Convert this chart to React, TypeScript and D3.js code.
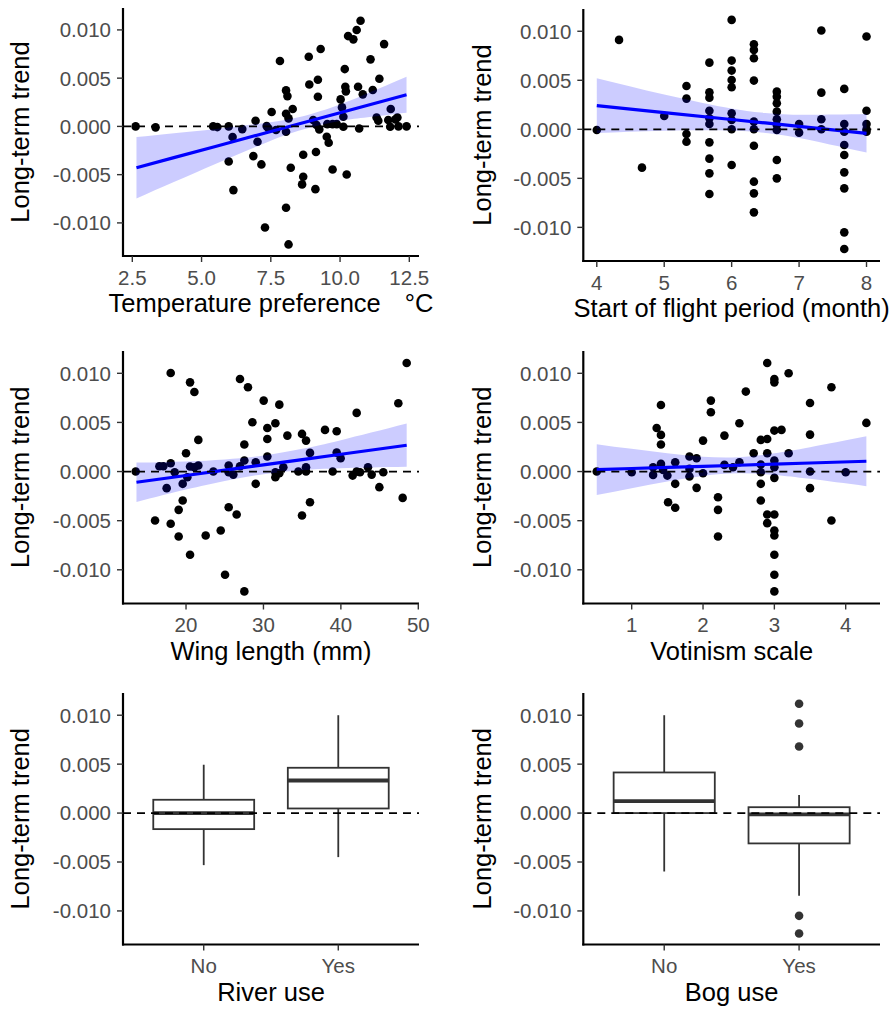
import React from "react";
import * as d3 from "d3";

// ---------- shared ----------
const Y_DOMAIN: [number, number] = [-0.01343, 0.01227];
const Y_TICKS = [-0.01, -0.005, 0, 0.005, 0.01];
const Y_TITLE = "Long-term trend";

// ---------- panel 1: temperature preference ----------
const tempX = [2.62, 3.34, 5.42, 5.57, 5.98, 6.12, 5.98, 6.15, 6.47, 6.95, 7.02, 6.87, 7.16, 7.29, 7.35, 7.42, 7.53, 7.69, 7.83, 8.05, 8.1, 8.05, 8.14, 8.29, 8.05, 8.22, 8.05, 8.14, 8.67, 8.67, 8.63, 8.87, 8.89, 9.2, 9.3, 9.2, 9.03, 9.15, 9.25, 9.13, 9.11, 9.52, 9.59, 9.54, 9.73, 9.73, 9.88, 10.02, 10.07, 10.17, 10.19, 10.21, 10.12, 10.12, 10.24, 10.29, 10.48, 10.6, 10.74, 10.65, 10.82, 10.69, 11.1, 11.18, 11.42, 11.32, 11.38, 11.59, 11.83, 11.81, 12.0, 12.11, 12.4, 12.07, 11.74];
const tempY = [0, -0.0001, 0, -0.00007, 0, -0.0011, -0.00363, -0.0066, -0.00028, 0.00059, -0.00159, -0.00308, -0.00394, -0.01047, 0.00003, -0.00021, 0.00149, -0.00038, 0.00677, 0.00373, 0.00314, 0.00131, 0.00083, 0.0018, -0.00055, -0.00428, -0.00843, -0.01223, -0.00294, -0.00522, -0.00601, 0.00722, 0.00435, 0.00484, 0.00802, 0.00308, 0.00066, 0.00014, -0.00031, -0.00266, -0.0065, -0.00107, -0.00169, 0.00024, 0.00024, -0.00446, 0.00024, 0.0028, 0.00197, 0.00594, 0.00411, 0.00363, 0.001, -0.00003, -0.00498, 0.00936, 0.00902, 0.00999, 0.01095, 0.00411, 0.00332, -0.00021, 0.00695, 0.00377, 0.00494, 0.00093, 0.00059, 0.00853, 0.0018, -0.00003, 0.00073, 0, 0, 0.00093, 0.00066];
const tempTicks = [2.5, 5, 7.5, 10, 12.5];
const tempFitX = [2.65, 4, 5.5, 7, 8.5, 10, 11, 12.4];
const tempFitY = [-0.00429, -0.00324, -0.00208, -0.00091, 0.00025, 0.00142, 0.00219, 0.00328];
const tempFitLo = [-0.00747, -0.00577, -0.0039, -0.00207, -0.00045, 0.00056, 0.00095, 0.00141];
const tempFitHi = [-0.00111, -0.00071, -0.00026, 0.00025, 0.00095, 0.00228, 0.00343, 0.00515];

// ---------- panel 2: start of flight period ----------
const flightX = [4, 4.33, 4.67, 5, 5.33, 5.33, 5.33, 5.33, 5.67, 5.67, 5.67, 5.67, 5.67, 5.67, 5.67, 5.67, 5.67, 5.67, 6, 6, 6, 6, 6, 6, 6, 6, 6, 6.33, 6.33, 6.33, 6.33, 6.33, 6.33, 6.33, 6.33, 6.33, 6.33, 6.67, 6.67, 6.67, 6.67, 6.67, 6.67, 6.67, 6.67, 6.67, 7, 7, 7.33, 7.33, 7.33, 7.33, 7.67, 7.67, 7.67, 7.67, 7.67, 7.67, 7.67, 7.67, 7.67, 8, 8, 8, 8, 8];
const flightY = [-0.00007, 0.00912, -0.00391, 0.00136, 0.00442, 0.00313, -0.00048, -0.00126, 0.0068, 0.00378, 0.00323, 0.0019, 0.00112, 0.00054, -0.00133, -0.00299, -0.00449, -0.0066, 0.01116, 0.00701, 0.00599, 0.00503, 0.00429, 0.00163, 0.00095, 0, -0.00364, 0.00867, 0.0081, 0.00724, 0.00497, 0.00078, 0, -0.00167, -0.00534, -0.00653, -0.00847, 0.00384, 0.00333, 0.00265, 0.0018, 0.00102, 0.00044, -0.00007, -0.00313, -0.005, 0.00054, -0.00034, 0.01007, 0.00374, 0.00102, 0, 0.00412, 0.00054, -0.00024, -0.0016, -0.00262, -0.00439, -0.00602, -0.01051, -0.01221, 0.00946, 0.0019, 0.00054, 0, -0.00024];
const flightTicks = [4, 5, 6, 7, 8];
const flightFitX = [4, 5, 6, 6.5, 7, 8];
const flightFitY = [0.00242, 0.00171, 0.001, 0.00065, 0.0003, -0.00041];
const flightFitLo = [-0.00038, -0.00014, -0.00012, -0.00037, -0.00088, -0.00237];
const flightFitHi = [0.00522, 0.00356, 0.00212, 0.00167, 0.00148, 0.00155];

// ---------- panel 3: wing length ----------
const wingX = [13.5, 16.0, 16.56, 17.07, 17.5, 18.02, 18.02, 18.02, 18.54, 19.05, 19.05, 19.57, 19.57, 20.0, 20.17, 20.52, 21.08, 20.52, 20.52, 21.08, 21.59, 21.59, 22.54, 23.53, 24.48, 25.04, 25.51, 25.51, 25.51, 26.11, 26.54, 26.97, 26.97, 27.53, 27.53, 27.53, 28.0, 28.57, 29.0, 29.0, 30.03, 30.5, 30.5, 30.5, 31.54, 32.05, 31.54, 31.54, 32.05, 32.57, 33.09, 34.51, 34.98, 35.5, 35.5, 35.5, 36.01, 34.98, 36.01, 37.95, 38.94, 39.46, 39.46, 39.97, 41.52, 42.04, 42.47, 43.5, 43.98, 44.97, 45.48, 47.42, 47.98, 48.5, 42.04];
const wingY = [0, -0.00498, 0.00054, 0.00054, -0.00169, 0.01003, 0.00085, -0.00532, -0.00007, -0.0039, -0.00661, -0.00125, -0.00295, 0.00186, -0.00058, 0.00908, 0.0081, 0.00051, -0.00847, 0.00044, 0.00322, 0.00061, -0.00651, 0, -0.006, -0.01051, -0.00363, 0.00061, -0.00007, -0.00031, -0.00437, 0.00942, 0.00054, 0.00275, 0.00112, -0.0122, 0.00858, 0.00502, 0.00095, -0.00125, 0.00722, 0.00444, 0.00332, 0.00153, 0.00492, 0.00681, -0.00007, -0.00058, -0.00017, 0.00044, 0.00366, 0, 0.00383, 0.00315, 0.00044, 0, 0.0019, -0.00447, -0.00312, 0.00424, 0, 0.0041, 0.00193, 0.00136, -0.00041, 0.00597, -0.00007, 0.00044, -0.00031, -0.00159, -0.00007, 0.00695, -0.00268, 0.01105, 0];
const wingTicks = [20, 30, 40, 50];
const wingFitX = [13.6, 20, 25, 30, 35, 40, 48.5];
const wingFitY = [-0.00109, -0.0004, 0.00014, 0.00068, 0.00122, 0.00176, 0.00268];
const wingFitLo = [-0.00309, -0.00183, -0.00095, -0.00027, 0.00013, 0.00033, 0.00048];
const wingFitHi = [0.00091, 0.00103, 0.00123, 0.00163, 0.00231, 0.00319, 0.00488];

// ---------- panel 4: votinism scale ----------
const votX = [0.51, 1.0, 1.3, 1.35, 1.41, 1.41, 1.41, 1.3, 1.41, 1.44, 1.5, 1.51, 1.61, 1.61, 1.61, 1.81, 1.81, 1.81, 1.91, 1.91, 2.0, 2.0, 2.11, 2.11, 2.21, 2.21, 2.21, 2.3, 2.3, 2.42, 2.51, 2.51, 2.6, 2.71, 2.81, 2.81, 2.81, 2.81, 2.81, 2.9, 2.9, 2.9, 2.9, 2.9, 3.0, 3.0, 3.0, 3.0, 3.0, 3.0, 3.0, 3.0, 3.0, 3.0, 3.0, 3.0, 3.1, 3.2, 3.2, 3.5, 3.5, 3.5, 3.5, 3.8, 3.8, 4.0, 4.29];
const votY = [0, -0.00007, -0.00034, 0.00444, 0.00678, 0.00373, 0.00275, 0.00044, 0.00078, 0.00017, -0.00041, -0.00312, 0.00095, -0.00125, -0.00369, 0.00153, 0.00027, -0.00051, 0.00136, -0.00166, 0.00315, -0.00017, 0.00722, 0.00603, -0.00261, -0.0039, -0.00661, 0.00366, 0.00068, 0.00044, 0.00492, 0.00095, 0.00814, 0.00186, 0.00322, 0.00071, -0.00007, -0.00125, -0.00295, 0.01105, 0.00332, 0.00186, -0.00437, -0.00525, 0.00942, 0.00908, 0.00417, 0.00112, 0.00044, -0.00064, -0.00437, -0.006, -0.00651, -0.00847, -0.01051, -0.0122, 0.00424, 0.01, 0.00186, 0.00698, 0.00376, 0, -0.00169, 0.00858, -0.00498, -0.00007, 0.00495];
const votTicks = [1, 2, 3, 4];
const votFitX = [0.51, 1.0, 1.5, 2.0, 2.5, 3.0, 3.5, 4.29];
const votFitY = [0.0002, 0.00031, 0.00042, 0.00053, 0.00064, 0.00076, 0.00087, 0.00105];
const votFitLo = [-0.00239, -0.00169, -0.00102, -0.00045, -0.00018, -0.00034, -0.00074, -0.00149];
const votFitHi = [0.00279, 0.00231, 0.00186, 0.00151, 0.00146, 0.00186, 0.00248, 0.00359];

// ---------- panel 5: river use ----------
const boxCats = ["No", "Yes"];
const riverLow = [-0.00532, -0.0045];
const riverQ1 = [-0.00164, 0.00047];
const riverMed = [0.0, 0.00333];
const riverQ3 = [0.00136, 0.00463];
const riverHigh = [0.00494, 0.01];
const riverOut: number[][] = [[], []];

// ---------- panel 6: bog use ----------
const bogLow = [-0.00597, -0.00844];
const bogQ1 = [0.0, -0.0031];
const bogMed = [0.00122, -0.00014];
const bogQ3 = [0.00415, 0.0006];
const bogHigh = [0.01, 0.00184];
const bogOut: number[][] = [[], [0.01117, 0.00915, 0.0068, -0.0105, -0.0123]];

const FONT = "'Liberation Sans', Arial, Helvetica, sans-serif";
const TICK_SIZE = 20.5;
const TITLE_SIZE = 25.5;
const TICK_COLOR = "#4d4d4d";

type Frame = { left: number; right: number; top: number; bottom: number; yTitleOff: number };

function Axes({ f, y, xTicks, xPos, xLabel, title }: {
  f: Frame;
  y: d3.ScaleLinear<number, number>;
  xTicks: any[];
  xPos: (v: any) => number;
  xLabel: (v: any) => string;
  title: React.ReactNode;
}) {
  const cy = (f.top + f.bottom) / 2;
  const cx = (f.left + f.right) / 2;
  return (
    <g fontFamily={FONT}>
      <line x1={f.left} x2={f.left} y1={f.top} y2={f.bottom + 1} stroke="#000" strokeWidth={2.2} />
      <line x1={f.left - 1} x2={f.right} y1={f.bottom} y2={f.bottom} stroke="#000" strokeWidth={2.2} />
      {Y_TICKS.map((t) => (
        <g key={"y" + t}>
          <line x1={f.left - 6} x2={f.left} y1={y(t)} y2={y(t)} stroke="#333" strokeWidth={1.4} />
          <text x={f.left - 12} y={y(t)} dy="0.36em" textAnchor="end" fontSize={TICK_SIZE} fill={TICK_COLOR}>
            {t.toFixed(3)}
          </text>
        </g>
      ))}
      {xTicks.map((t) => (
        <g key={"x" + t}>
          <line x1={xPos(t)} x2={xPos(t)} y1={f.bottom} y2={f.bottom + 6} stroke="#333" strokeWidth={1.4} />
          <text x={xPos(t)} y={f.bottom + 28.5} textAnchor="middle" fontSize={TICK_SIZE} fill={TICK_COLOR}>
            {xLabel(t)}
          </text>
        </g>
      ))}
      <text x={cx} y={f.bottom + 56} textAnchor="middle" fontSize={TITLE_SIZE} fill="#000">
        {title}
      </text>
      <text
        transform={`translate(${f.left - f.yTitleOff},${cy}) rotate(-90)`}
        textAnchor="middle"
        fontSize={TITLE_SIZE}
        fill="#000"
      >
        {Y_TITLE}
      </text>
    </g>
  );
}

function Scatter({ f, xDomain, xs, ys, fitX, fitY, fitLo, fitHi, xTicks, xFmt, title }: {
  f: Frame; xDomain: [number, number]; xs: number[]; ys: number[];
  fitX: number[]; fitY: number[]; fitLo: number[]; fitHi: number[];
  xTicks: number[]; xFmt: (v: number) => string; title: React.ReactNode;
}) {
  const x = d3.scaleLinear().domain(xDomain).range([f.left, f.right]);
  const y = d3.scaleLinear().domain(Y_DOMAIN).range([f.bottom, f.top]);
  const idx = fitX.map((_, i) => i);
  const band = d3.area<number>()
    .x((i) => x(fitX[i]))
    .y0((i) => y(fitLo[i]))
    .y1((i) => y(fitHi[i]))
    .curve(d3.curveNatural)(idx) as string;
  const fit = d3.line<number>().x((i) => x(fitX[i])).y((i) => y(fitY[i]))(idx) as string;
  return (
    <g>
      {xs.map((v, i) => (
        <circle key={i} cx={x(v)} cy={y(ys[i])} r={4.3} fill="#000" />
      ))}
      <path d={band} fill="#0000ff" fillOpacity={0.2} stroke="none" />
      <path d={fit} fill="none" stroke="#0000ff" strokeWidth={3.2} />
      <line x1={f.left} x2={f.right} y1={y(0)} y2={y(0)} stroke="#000" strokeWidth={1.8} strokeDasharray="8,6" />
      <Axes f={f} y={y} xTicks={xTicks} xPos={x} xLabel={xFmt} title={title} />
    </g>
  );
}

function Boxes({ f, low, q1, med, q3, high, outs, title }: {
  f: Frame; low: number[]; q1: number[]; med: number[]; q3: number[]; high: number[];
  outs: number[][]; title: string;
}) {
  const x = d3.scaleLinear().domain([0.4, 2.6]).range([f.left, f.right]);
  const y = d3.scaleLinear().domain(Y_DOMAIN).range([f.bottom, f.top]);
  const pos = (c: string) => x(boxCats.indexOf(c) + 1);
  const halfW = (x(1.375) - x(1));
  return (
    <g>
      {boxCats.map((c, i) => {
        const cx = pos(c);
        return (
          <g key={c} stroke="#333" fill="none">
            <line x1={cx} x2={cx} y1={y(high[i])} y2={y(q3[i])} strokeWidth={1.8} />
            <line x1={cx} x2={cx} y1={y(q1[i])} y2={y(low[i])} strokeWidth={1.8} />
            <rect x={cx - halfW} width={2 * halfW} y={y(q3[i])} height={y(q1[i]) - y(q3[i])} fill="#fff" strokeWidth={1.8} />
            <line x1={cx - halfW} x2={cx + halfW} y1={y(med[i])} y2={y(med[i])} strokeWidth={3.8} />
            {outs[i].map((o, k) => (
              <circle key={k} cx={cx} cy={y(o)} r={4.3} fill="#333" stroke="none" />
            ))}
          </g>
        );
      })}
      <line x1={f.left} x2={f.right} y1={y(0)} y2={y(0)} stroke="#000" strokeWidth={1.8} strokeDasharray="8,6" />
      <Axes f={f} y={y} xTicks={boxCats} xPos={pos} xLabel={(c) => c} title={title} />
    </g>
  );
}

const LEFT_X = { left: 123, right: 419, yTitleOff: 94.5 };
const RIGHT_X = { left: 583.3, right: 880, yTitleOff: 92 };

export default function App() {
  const f1: Frame = { ...LEFT_X, top: 8, bottom: 256 };
  const f2: Frame = { ...RIGHT_X, top: 9, bottom: 261 };
  const f3: Frame = { ...LEFT_X, top: 351, bottom: 603.5 };
  const f4: Frame = { ...RIGHT_X, top: 351, bottom: 603.5 };
  const f5: Frame = { ...LEFT_X, top: 693, bottom: 944.5 };
  const f6: Frame = { ...RIGHT_X, top: 693, bottom: 944.5 };
  const fmt1 = d3.format(".1f");
  const fmt0 = d3.format("d");
  return (
    <svg
      width={895}
      height={1009}
      viewBox="0 0 895 1009"
      style={{ position: "absolute", left: 0, top: 0, background: "#fff" }}
    >
      <defs>
        <clipPath id="leftCol"><rect x={0} y={0} width={438} height={1009} /></clipPath>
        <clipPath id="rightCol"><rect x={445} y={0} width={450} height={1009} /></clipPath>
      </defs>
      <rect width={895} height={1009} fill="#fff" />
      <g clipPath="url(#leftCol)">
        <Scatter f={f1} xDomain={[2.164, 12.85]} xs={tempX} ys={tempY}
          fitX={tempFitX} fitY={tempFitY} fitLo={tempFitLo} fitHi={tempFitHi}
          xTicks={tempTicks} xFmt={fmt1}
          title={<><tspan>Temperature preference</tspan><tspan dx={24}>°C</tspan></>} />
        <Scatter f={f3} xDomain={[11.86, 50.09]} xs={wingX} ys={wingY}
          fitX={wingFitX} fitY={wingFitY} fitLo={wingFitLo} fitHi={wingFitHi}
          xTicks={wingTicks} xFmt={fmt0} title="Wing length (mm)" />
        <Boxes f={f5} low={riverLow} q1={riverQ1} med={riverMed} q3={riverQ3} high={riverHigh}
          outs={riverOut} title="River use" />
      </g>
      <g clipPath="url(#rightCol)">
        <Scatter f={f2} xDomain={[3.8, 8.2]} xs={flightX} ys={flightY}
          fitX={flightFitX} fitY={flightFitY} fitLo={flightFitLo} fitHi={flightFitHi}
          xTicks={flightTicks} xFmt={fmt0} title="Start of flight period (month)" />
        <Scatter f={f4} xDomain={[0.3215, 4.481]} xs={votX} ys={votY}
          fitX={votFitX} fitY={votFitY} fitLo={votFitLo} fitHi={votFitHi}
          xTicks={votTicks} xFmt={fmt0} title="Votinism scale" />
        <Boxes f={f6} low={bogLow} q1={bogQ1} med={bogMed} q3={bogQ3} high={bogHigh}
          outs={bogOut} title="Bog use" />
      </g>
    </svg>
  );
}
